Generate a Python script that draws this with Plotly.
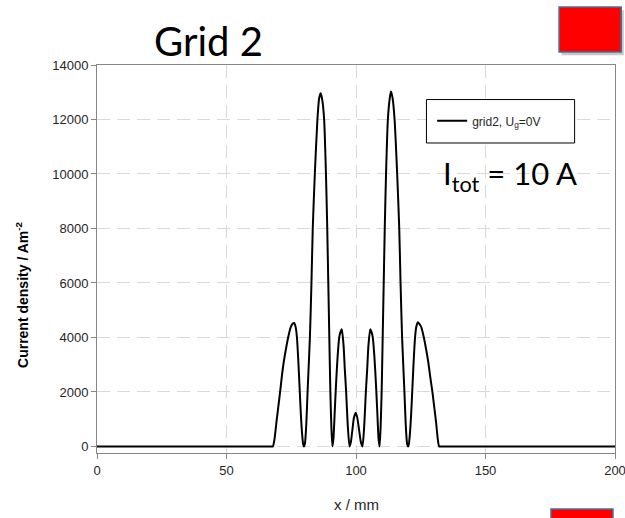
import plotly.graph_objects as go

# ---- data ----
x_mm = [0, 40, 66.5, 67.5, 67.9, 68.5, 69.3, 70.0, 70.7, 71.4, 72.1, 72.9, 73.8, 74.8, 75.6, 76.1,
        76.7, 77.2, 77.7, 78.2, 78.7, 79.2, 79.6, 79.9,
        80.3, 80.8, 81.3, 82.2, 82.8, 83.3, 84.1, 85.1, 85.8, 86.4, 87.0, 87.7, 88.4, 88.9,
        89.3, 89.7, 90.1, 90.5, 90.9,
        91.3, 91.8, 92.3, 92.9, 93.6, 94.5, 95.2, 95.7, 96.2, 96.8, 97.5,
        98.0, 98.6, 99.2, 99.9, 100.5, 101.2, 101.9, 102.5,
        103.2, 103.8, 104.3, 104.8, 105.5, 106.4, 107.1, 107.7, 108.2, 108.7, 109.1,
        109.5, 109.9, 110.3, 110.7, 111.1, 111.6, 112.3, 113.0, 113.5, 114.1, 114.9, 115.9,
        116.7, 117.2, 117.8, 118.7, 119.2, 119.7, 120.1,
        120.4, 120.8, 121.3, 121.8, 122.3, 122.8, 123.3, 123.9, 124.4, 125.2, 126.2, 127.1,
        127.9, 128.6, 129.5, 130.2, 130.9, 131.6, 132.1, 133.0, 160, 200]
current_density = [0, 0, 0, 0, 0, 250, 900, 1450, 2000, 2600, 3100, 3550, 4000, 4380, 4510, 4530,
                   4380, 4000, 3200, 2200, 1200, 450, 80, 0,
                   120, 800, 2000, 4000, 6000, 8000, 10000, 12000, 12800, 12960, 12700, 12000, 10000, 8000,
                   6000, 4000, 2000, 700, 0,
                   300, 1300, 2300, 3300, 4050, 4300, 3700, 2800, 2000, 800, 0,
                   150, 600, 1050, 1240, 1050, 600, 150, 0,
                   800, 2000, 2800, 3700, 4300, 4050, 3300, 2300, 1300, 300, 0,
                   700, 2000, 4000, 6000, 8000, 10000, 12000, 12760, 13030, 12800, 12000, 10000,
                   8000, 6000, 4000, 2000, 800, 120, 0,
                   80, 450, 1200, 2200, 3200, 4000, 4400, 4560, 4510, 4380, 4000, 3550,
                   3100, 2600, 2000, 1450, 900, 250, 0, 0, 0, 0]
x_ticks = [0, 50, 100, 150, 200]
x_tick_labels = ["0", "50", "100", "150", "200"]
y_ticks = [0, 2000, 4000, 6000, 8000, 10000, 12000, 14000]
y_tick_labels = ["0", "2000", "4000", "6000", "8000", "10000", "12000", "14000"]
series_name = "grid2, U<sub>g</sub>=0V"
chart_title = "Grid 2"
current_note = "I<sub>tot</sub> = 10 A"
x_title = "x / mm"
y_title = "<b>Current density / Am<sup>-2</sup></b>"

AX = "#868686"
GRID = "#d9d9d9"
TXT = "#262626"

fig = go.Figure()
fig.add_trace(go.Scatter(
    x=x_mm, y=current_density, mode="lines", name=series_name,
    line=dict(color="black", width=2, shape="spline", smoothing=0.6),
    showlegend=True,
))

axis_common = dict(
    showline=True, linecolor=AX, linewidth=1, mirror=True,
    ticks="outside", ticklen=5, tickwidth=1, tickcolor=AX,
    showgrid=True, gridcolor=GRID, gridwidth=1, griddash="13px,7px",
    zeroline=False, ticklabeloverflow="allow", automargin=False,
    tickfont=dict(family="Liberation Sans, Arial, sans-serif", size=13, color=TXT),
)

fig.update_layout(
    width=625, height=518,
    margin=dict(l=97, r=10, t=65, b=65, autoexpand=False),
    paper_bgcolor="white", plot_bgcolor="white",
    xaxis=dict(range=[0, 200], tickmode="array", tickvals=x_ticks, ticktext=x_tick_labels, **axis_common),
    yaxis=dict(range=[-240, 14000], tickmode="array", tickvals=y_ticks, ticktext=y_tick_labels, **axis_common),
    showlegend=True,
    legend=dict(
        x=0.647, y=0.856, xanchor="left", yanchor="middle",
        bgcolor="rgba(0,0,0,0)", borderwidth=0,
        font=dict(family="Liberation Sans, Arial, sans-serif", size=12, color=TXT),
    ),
)

shapes = [
    # legend frame
    dict(type="rect", xref="paper", yref="paper", x0=0.636, x1=0.922, y0=0.799, y1=0.911,
         line=dict(color="black", width=1), fillcolor="white", layer="above"),
    # top red square: shadow then square
    dict(type="rect", xref="paper", yref="paper", x0=0.897, x1=1.017, y0=1.025, y1=1.141,
         line=dict(width=0), fillcolor="rgba(0,0,0,0.22)", layer="above"),
    dict(type="rect", xref="paper", yref="paper", x0=0.892, x1=1.012, y0=1.0335, y1=1.1495,
         line=dict(color="#41719C", width=1.5), fillcolor="#FF0000", layer="above"),
    # bottom red square (cut by the edge)
    dict(type="rect", xref="paper", yref="paper", x0=0.8764, x1=0.9961, y0=-0.30, y1=-0.1443,
         line=dict(color="#41719C", width=1.5), fillcolor="#FF0000", layer="above"),
]
fig.update_layout(shapes=shapes)

fig.add_annotation(text=chart_title, xref="paper", yref="paper", x=0.216, y=1.062,
                   xanchor="center", yanchor="middle", showarrow=False,
                   font=dict(family="Lato, sans-serif", size=40, color="black"))
fig.add_annotation(text=current_note, xref="paper", yref="paper", x=0.664, y=0.716,
                   xanchor="left", yanchor="middle", showarrow=False,
                   font=dict(family="Lato, sans-serif", size=31, color="black"))
fig.add_annotation(text=y_title, xref="paper", yref="paper", x=-0.145, y=0.407,
                   xanchor="center", yanchor="middle", showarrow=False, textangle=-90,
                   font=dict(family="Liberation Sans, Arial, sans-serif", size=14, color="black"))
fig.add_annotation(text=x_title, xref="paper", yref="paper", x=0.5, y=-0.134,
                   xanchor="center", yanchor="middle", showarrow=False,
                   font=dict(family="Liberation Sans, Arial, sans-serif", size=15, color=TXT))

fig.write_html("out.html")
